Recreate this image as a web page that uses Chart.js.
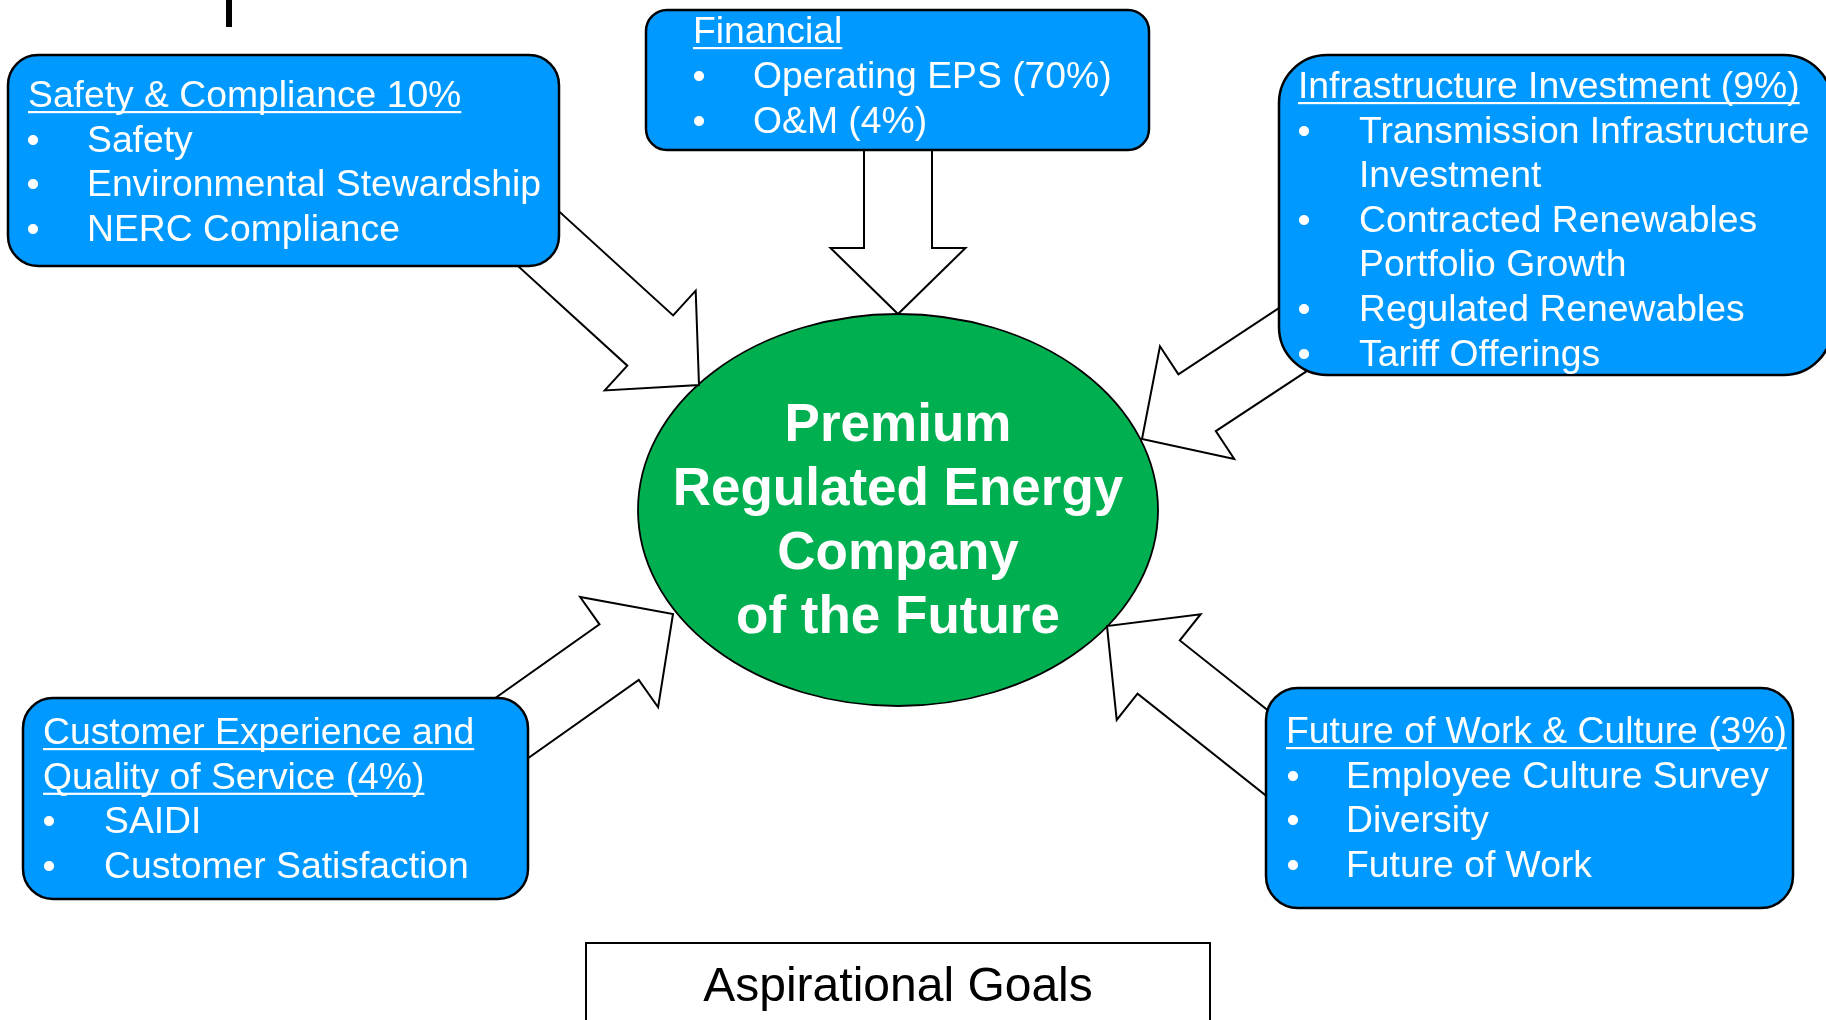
<!DOCTYPE html>
<html>
<head>
<meta charset="utf-8">
<script src="https://cdn.jsdelivr.net/npm/chart.js@4.4.1/dist/chart.umd.min.js"></script>
<style>
  html, body { margin: 0; padding: 0; background: #fff; }
  #wrap { width: 1826px; height: 1020px; position: relative; }
</style>
</head>
<body>
<div id="wrap"><canvas id="diagrama"></canvas></div>
<script>
// textos de cada cuadro (titulo subrayado + viñetas)
const tituloSeguridad = ['Safety & Compliance 10%'];
const itemsSeguridad = ['Safety', 'Environmental Stewardship', 'NERC Compliance'];
const tituloFinanciero = ['Financial'];
const itemsFinanciero = ['Operating EPS (70%)', 'O&M (4%)'];
const tituloInfra = ['Infrastructure Investment (9%)'];
const itemsInfra = ['Transmission Infrastructure\nInvestment', 'Contracted Renewables\nPortfolio Growth', 'Regulated Renewables', 'Tariff Offerings'];
const tituloCliente = ['Customer Experience and', 'Quality of Service (4%)'];
const itemsCliente = ['SAIDI', 'Customer Satisfaction'];
const tituloFuturo = ['Future of Work & Culture (3%)'];
const itemsFuturo = ['Employee Culture Survey', 'Diversity', 'Future of Work'];
const textoCentro = ['Premium', 'Regulated Energy', 'Company', 'of the Future'];
const textoPie = 'Aspirational Goals';

const fuente = '"Liberation Sans", Arial, sans-serif';
const azul = '#0099FF';
const verde = '#00B050';

// posicion de los cuadros
const cuadros = [
    { titulo: tituloSeguridad, items: itemsSeguridad, x: 8, y: 55, w: 551, h: 211, r: 30, tx: 28, bx: 33, ix: 87, base: 107, lh: 44.5 },
    { titulo: tituloFinanciero, items: itemsFinanciero, x: 646, y: 10, w: 503, h: 140, r: 21, tx: 693, bx: 699, ix: 753, base: 43, lh: 45 },
    { titulo: tituloInfra, items: itemsInfra, x: 1279, y: 55, w: 553, h: 320, r: 48, tx: 1298, bx: 1304, ix: 1359, base: 98, lh: 44.6 },
    { titulo: tituloCliente, items: itemsCliente, x: 23, y: 698, w: 505, h: 201, r: 30, tx: 43, bx: 49, ix: 104, base: 744, lh: 44.7 },
    { titulo: tituloFuturo, items: itemsFuturo, x: 1266, y: 688, w: 527, h: 220, r: 32, tx: 1286, bx: 1293, ix: 1346, base: 743, lh: 44.7 }
];

// flechas: cola (dentro del cuadro) y punta (en la elipse)
const flechas = [
    { cola: [507, 210], punta: [699, 385] },
    { cola: [898, 120], punta: [898, 314] },
    { cola: [1359, 296], punta: [1142, 439] },
    { cola: [461, 764], punta: [673, 614] },
    { cola: [1311, 788], punta: [1107, 626] }
];

const diagrama = {
    id: 'diagrama',
    beforeDraw(chart) {
        const ctx = chart.ctx;
        ctx.save();
        ctx.fillStyle = '#fff';
        ctx.fillRect(0, 0, chart.width, chart.height);
        ctx.restore();
    },
    afterDraw(chart) {
        const ctx = chart.ctx;
        const X = v => chart.scales.x.getPixelForValue(v);
        const Y = v => chart.scales.y.getPixelForValue(v);
        ctx.save();

        // barra negra arriba
        ctx.fillStyle = '#000';
        ctx.fillRect(X(226), Y(0), X(232) - X(226), Y(27) - Y(0));

        // elipse central
        ctx.beginPath();
        ctx.ellipse(X(898), Y(510), X(260) - X(0), Y(196) - Y(0), 0, 0, 2 * Math.PI);
        ctx.fillStyle = verde;
        ctx.fill();
        ctx.lineWidth = 1.8;
        ctx.strokeStyle = '#000';
        ctx.stroke();

        // flechas
        flechas.forEach(f => {
            const dx = f.punta[0] - f.cola[0], dy = f.punta[1] - f.cola[1];
            const L = Math.hypot(dx, dy);
            const d = [dx / L, dy / L], n = [-d[1], d[0]];
            const hb = [f.punta[0] - d[0] * 66, f.punta[1] - d[1] * 66];
            const p = (b, k) => [b[0] + n[0] * k, b[1] + n[1] * k];
            const pts = [p(f.cola, 34), p(hb, 34), p(hb, 67.5), f.punta, p(hb, -67.5), p(hb, -34), p(f.cola, -34)];
            ctx.beginPath();
            pts.forEach((q, i) => i ? ctx.lineTo(X(q[0]), Y(q[1])) : ctx.moveTo(X(q[0]), Y(q[1])));
            ctx.closePath();
            ctx.fillStyle = '#fff';
            ctx.fill();
            ctx.lineWidth = 2;
            ctx.lineJoin = 'miter';
            ctx.strokeStyle = '#000';
            ctx.stroke();
        });

        // cuadros azules
        cuadros.forEach(c => {
            ctx.beginPath();
            ctx.roundRect(X(c.x), Y(c.y), X(c.x + c.w) - X(c.x), Y(c.y + c.h) - Y(c.y), c.r);
            ctx.fillStyle = azul;
            ctx.fill();
            ctx.lineWidth = 2.5;
            ctx.strokeStyle = '#000';
            ctx.stroke();

            ctx.fillStyle = '#fff';
            ctx.font = `37.3px ${fuente}`;
            ctx.textBaseline = 'alphabetic';
            let fila = 0;
            c.titulo.forEach(t => {
                const yb = c.base + fila * c.lh;
                ctx.textAlign = 'left';
                ctx.fillText(t, X(c.tx), Y(yb));
                const w = ctx.measureText(t).width;
                ctx.fillRect(X(c.tx), Y(yb + 4), w, 2.2);
                fila++;
            });
            c.items.forEach(it => {
                it.split('\n').forEach((linea, k) => {
                    const yb = c.base + fila * c.lh;
                    if (k === 0) {
                        ctx.textAlign = 'center';
                        ctx.fillText('\u2022', X(c.bx), Y(yb));
                    }
                    ctx.textAlign = 'left';
                    ctx.fillText(linea, X(c.ix), Y(yb));
                    fila++;
                });
            });
        });

        // texto de la elipse
        ctx.fillStyle = '#fff';
        ctx.font = `bold 53px ${fuente}`;
        ctx.textAlign = 'center';
        textoCentro.forEach((t, i) => ctx.fillText(t, X(898), Y(441 + i * 64)));

        // cuadro inferior
        ctx.beginPath();
        ctx.rect(X(586), Y(943), X(1210) - X(586), Y(1030) - Y(943));
        ctx.lineWidth = 2;
        ctx.strokeStyle = '#000';
        ctx.stroke();
        ctx.fillStyle = '#000';
        ctx.font = `48px ${fuente}`;
        ctx.fillText(textoPie, X(898), Y(1001));

        ctx.restore();
    }
};

new Chart(document.getElementById('diagrama'), {
    type: 'scatter',
    data: { datasets: [] },
    options: {
        responsive: true,
        maintainAspectRatio: false,
        animation: false,
        events: [],
        layout: { padding: 0 },
        plugins: { legend: { display: false }, tooltip: { enabled: false } },
        scales: {
            x: { type: 'linear', min: 0, max: 1826, display: false },
            y: { type: 'linear', min: 0, max: 1020, reverse: true, display: false }
        }
    },
    plugins: [diagrama]
});
</script>
</body>
</html>
